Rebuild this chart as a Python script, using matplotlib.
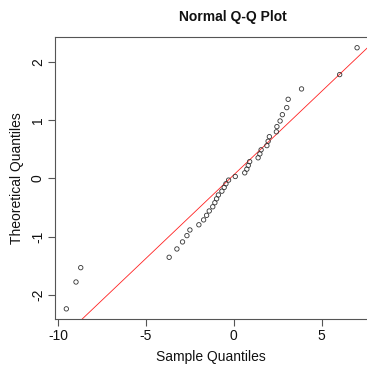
import numpy as np
import matplotlib
matplotlib.use("Agg")
import matplotlib.pyplot as plt

plt.rcParams['font.family'] = ['Liberation Sans', 'DejaVu Sans']

# Theoretical normal quantiles (n = 40)
theoretical = [-2.241, -1.780, -1.534, -1.356, -1.213, -1.092, -0.984, -0.887,
               -0.798, -0.714, -0.636, -0.561, -0.489, -0.419, -0.352, -0.286,
               -0.221, -0.157, -0.094, -0.031,
               0.031, 0.094, 0.157, 0.221, 0.286, 0.352, 0.419, 0.489,
               0.561, 0.636, 0.714, 0.798, 0.887, 0.984, 1.092, 1.213,
               1.356, 1.534, 1.780, 2.241]
# Sample quantiles (sorted sample values)
sample = [-9.53, -8.98, -8.71, -3.68, -3.24, -2.92, -2.67, -2.50,
          -1.99, -1.72, -1.55, -1.40, -1.20, -1.08, -0.98, -0.88,
          -0.68, -0.55, -0.45, -0.30,
          0.08, 0.62, 0.74, 0.82, 0.90, 1.38, 1.48, 1.55,
          1.88, 1.95, 2.02, 2.42, 2.45, 2.63, 2.76, 3.01,
          3.09, 3.85, 6.02, 7.01]
x_ticks = [-10, -5, 0, 5]
y_ticks = [-2, -1, 0, 1, 2]

x = np.array(sample)
y = np.array(theoretical)

fig = plt.figure(figsize=(3.67, 3.67), dpi=100)
W = H = 367.0
ax = fig.add_axes([54.7 / W, 1 - 319.3 / H, 314 / W, 282 / H])

ax.scatter(x, y, s=10, facecolors='none', edgecolors='#333333', linewidths=0.6, zorder=3)

mu = x.mean()
sd = x.std(ddof=1)
ax.axline((mu, 0), slope=1 / sd, color='#ff2020', lw=0.6, zorder=2)

rx = x.max() - x.min()
ax.set_xlim(x.min() - 0.04 * rx, x.max() + 0.04 * rx)
ry = y.max() - y.min()
ax.set_ylim(y.min() - 0.04 * ry, y.max() + 0.04 * ry)

ax.set_xticks(x_ticks)
ax.set_yticks(y_ticks)
ax.set_xticklabels([str(t) for t in x_ticks])
ax.set_yticklabels([str(t) for t in y_ticks], rotation=90, va='center')
ax.tick_params(direction='out', length=5, width=0.8, color='#555555',
               labelsize=10, labelcolor='#111111', pad=2)

for s in ax.spines.values():
    s.set_color('#555555')
    s.set_linewidth(0.8)

fig.text(233 / W, 1 - 17 / H, 'Normal Q-Q Plot', ha='center', va='center',
         fontsize=10, fontweight='bold', color='#111111')
fig.text(211 / W, 1 - 357 / H, 'Sample Quantiles', ha='center', va='center',
         fontsize=10, color='#111111')
fig.text(17 / W, 1 - 178 / H, 'Theoretical Quantiles', ha='center', va='center',
         rotation=90, fontsize=10, color='#111111')

fig.savefig('out.png', dpi=100)
